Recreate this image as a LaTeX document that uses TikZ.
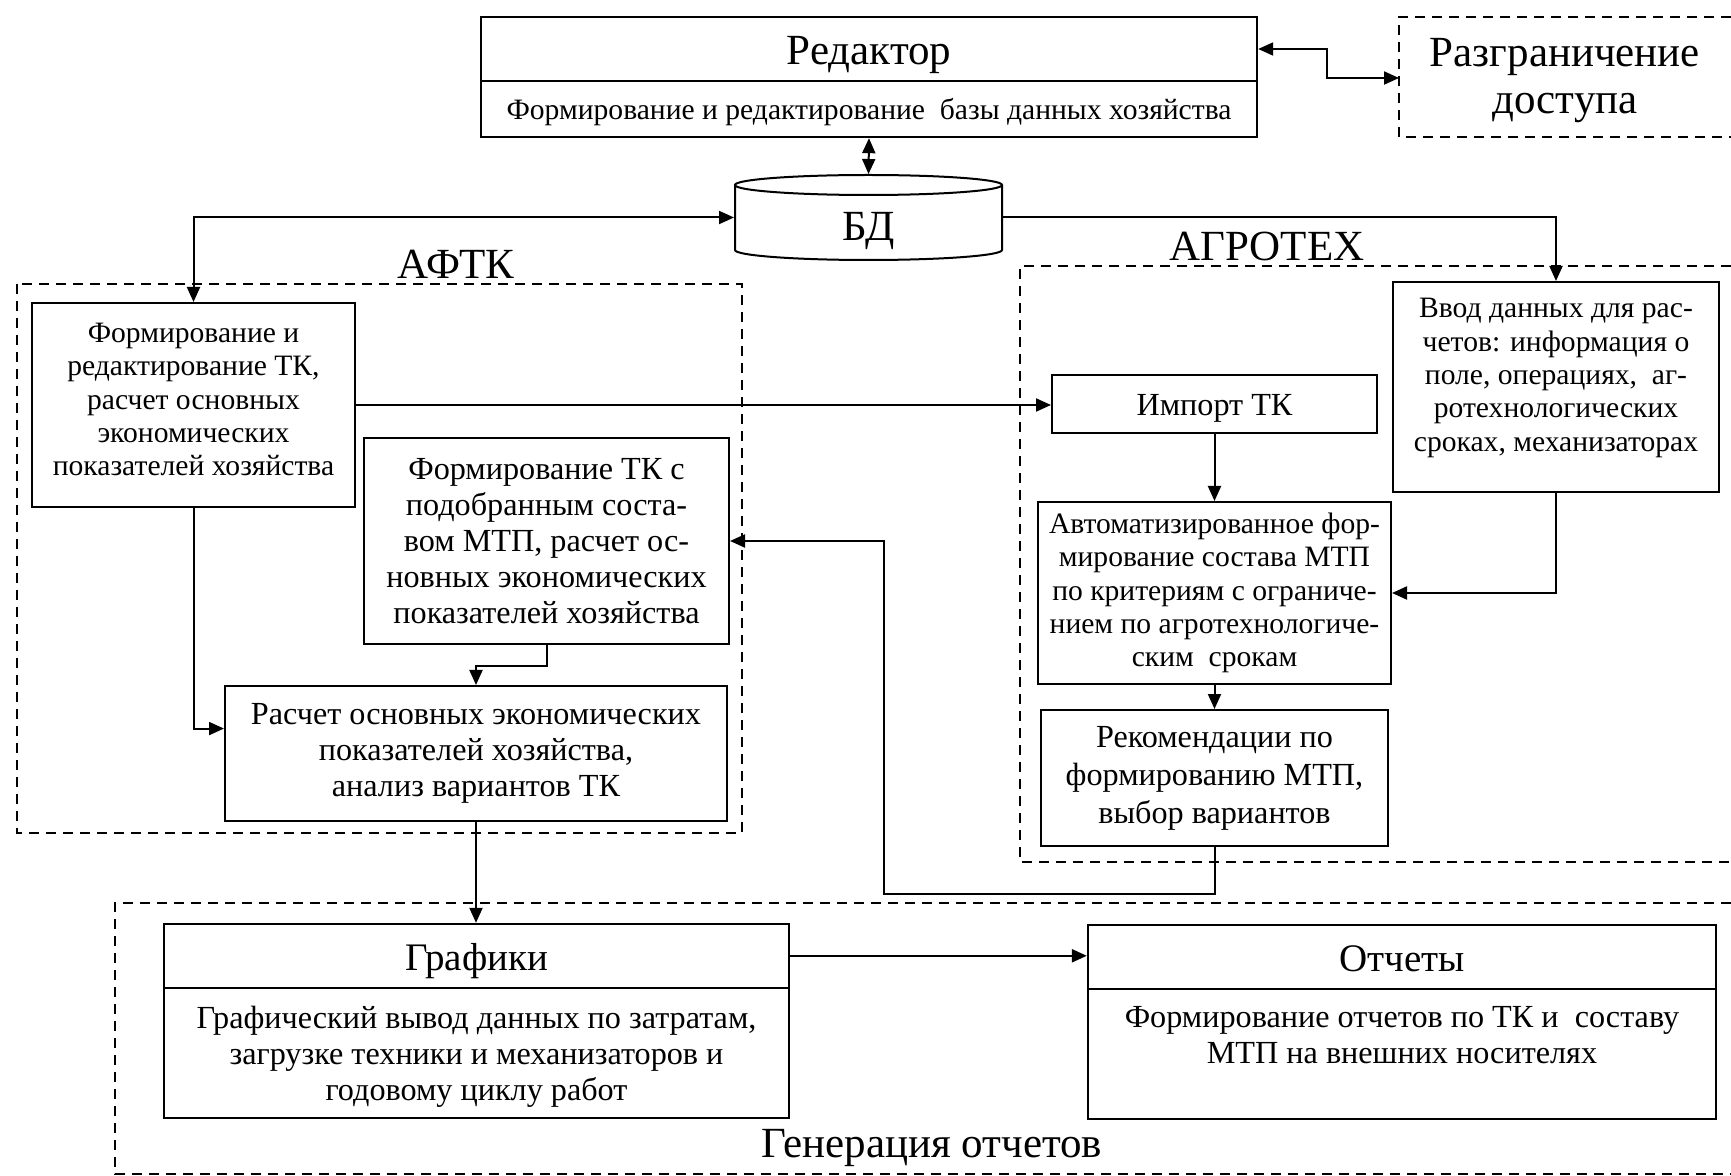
\documentclass[tikz,border=0pt]{standalone}
\usepackage{fontspec}
\setmainfont{Liberation Serif}
\usetikzlibrary{arrows.meta,calc}
\begin{document}
\begin{tikzpicture}[x=0.5pt,y=-0.5pt,
  line width=1pt,
  tip/.tip={Triangle[length=7.5pt,width=6.5pt]},
  arr/.style={-tip},
  darr/.style={tip-tip},
  box/.style={draw, line width=1pt, inner sep=0pt},
  txt/.style={inner sep=0pt, align=center},
  sfont/.style={font=\fontsize{14.8}{16.7}\selectfont},
  lfont/.style={font=\fontsize{16.1}{18}\selectfont},
  rfont/.style={font=\fontsize{16.1}{19}\selectfont},
  hfont/.style={font=\fontsize{21.5}{25}\selectfont},
  gfont/.style={font=\fontsize{19.5}{24}\selectfont},
  grp/.style={dash pattern=on 5pt off 3.5pt, line width=1pt},
]
\useasboundingbox (0,0) rectangle (1731,1176);

% group frames
\draw[grp] (17,284) rectangle (742,833);
\draw[grp] (1731,266) -- (1020,266) -- (1020,862) -- (1731,862);
\draw[grp] (1731,903) -- (115,903) -- (115,1174) -- (1731,1174);
\draw[grp] (1731,17) -- (1399,17) -- (1399,137) -- (1731,137);

% group labels
\node[hfont, anchor=base] (lafk) at (456,279) {АФТК};
\node[hfont, anchor=base] (lagr) at (1267,261) {АГРОТЕХ};
\node[hfont, anchor=base] (lgen) at (932,1157) {Генерация отчетов};
\node[hfont, anchor=base] (razt1) at (1565,67) {Разграничение};
\node[hfont, anchor=base] (razt2) at (1565,114) {доступа};

% editor
\node[box, line width=1.2pt, minimum width=388pt, minimum height=60pt] (ed) at (869,77) {};
\coordinate (edd) at (0,81);
\draw[line width=1.2pt] (ed.west |- edd) -- (ed.east |- edd);
\node[hfont, anchor=base] (edt) at (869,65) {Редактор};
\node[sfont] (eds) at (869,112.5) {Формирование и редактирование \ базы данных хозяйства};

% database cylinder
\node[inner sep=0pt, minimum width=133.5pt, minimum height=42.5pt] (bd) at (868.5,217.5) {};
\draw (735,185) -- (735,250) arc[start angle=180,end angle=0,x radius=133.5,y radius=10] -- (1002,185);
\draw (868.5,185) ellipse [x radius=133.5, y radius=10];
\node[hfont, anchor=base] (bdt) at (868.5,241) {БД};

% AFTK boxes
\node[box, minimum width=161.5pt, minimum height=102pt] (b1) at (193.5,405) {};
\node[txt, sfont] (b1t) at (193.5,399.5)
  {Формирование и\\редактирование ТК,\\расчет основных\\экономических\\показателей хозяйства};
\node[box, minimum width=182.5pt, minimum height=103pt] (b2) at (546.5,541) {};
\node[txt, lfont] (b2t) at (546.5,541)
  {Формирование ТК с\\подобранным соста-\\вом МТП, расчет ос-\\новных экономических\\показателей хозяйства};
\node[box, minimum width=251pt, minimum height=67.5pt] (b3) at (476,753.5) {};
\node[txt, lfont] (b3t) at (476,753.5)
  {Расчет основных экономических\\показателей хозяйства,\\анализ вариантов ТК};

% AGROTEX boxes
\node[box, minimum width=162.5pt, minimum height=29pt] (imp) at (1214.5,404.5) {};
\node[txt, lfont] (impt) at (1214.5,408.5) {Импорт ТК};
\node[box, minimum width=163pt, minimum height=105pt] (vvod) at (1556,387) {};
\node[txt, sfont] (vvodt) at (1556,378)
  {Ввод данных для рас-\\четов: информация о\\поле, операциях, \ аг-\\ротехнологических\\сроках, механизаторах};
\node[box, minimum width=176.5pt, minimum height=91pt] (avt) at (1214.5,593) {};
\node[txt, sfont] (avtt) at (1214.5,593)
  {Автоматизированное фор-\\мирование состава МТП\\по критериям с ограниче-\\нием по агротехнологиче-\\ским \ срокам};
\node[box, minimum width=173.5pt, minimum height=68pt] (rek) at (1214.5,778) {};
\node[txt, rfont] (rekt) at (1214.5,778)
  {Рекомендации по\\формированию МТП,\\выбор вариантов};

% report boxes
\node[box, line width=1.2pt, minimum width=312.5pt, minimum height=97pt] (graf) at (476.5,1021) {};
\node[box, line width=1.2pt, minimum width=314pt, minimum height=97pt] (otch) at (1402,1022) {};
\coordinate (gd) at (0,988);
\coordinate (od) at (0,989);
\draw[line width=1.2pt] (graf.west |- gd) -- (graf.east |- gd);
\draw[line width=1.2pt] (otch.west |- od) -- (otch.east |- od);
\node[gfont] (gt) at (476.5,961.5) {Графики};
\node[gfont] (ot) at (1402,959) {Отчеты};
\node[lfont, align=center] (gs) at (476.5,1057)
  {Графический вывод данных по затратам,\\загрузке техники и механизаторов и\\годовому циклу работ};
\node[lfont, align=center] (os) at (1402,1035.5)
  {Формирование отчетов по ТК и \ составу\\МТП на внешних носителях};

% connectors
\coordinate (rz) at (1399,78);
\coordinate (rzk) at (1327,49);
\draw[darr] (ed.east |- rzk) -- (rzk) |- (rz);
\draw[darr] (ed.south) -- (bd.north);
\draw[darr] (bd.west) -| (b1.north);
\draw[arr] (bd.east) -| (vvod.north);
\draw[arr] (b1.east) -- (b1.east -| imp.west);
\draw[arr] (b1.south) |- ($(b3.north west)!0.318!(b3.south west)$);
\draw[arr] (b2.south) -- ++(0,21) -| (b3.north);
\draw[arr] (b3.south) -- (b3.south |- graf.north);
\draw[arr] (imp.south) -- (avt.north);
\draw[arr] (vvod.south) |- (avt.east);
\draw[arr] (avt.south) -- (rek.north);
\coordinate (fb) at (884,894);
\draw[arr] (rek.south) |- (fb) |- (b2.east);
\coordinate (gr) at ($(graf.north east)!0.168!(graf.south east)$);
\draw[arr, line width=1.2pt] (gr) -- (gr -| otch.west);
\end{tikzpicture}
\end{document}
